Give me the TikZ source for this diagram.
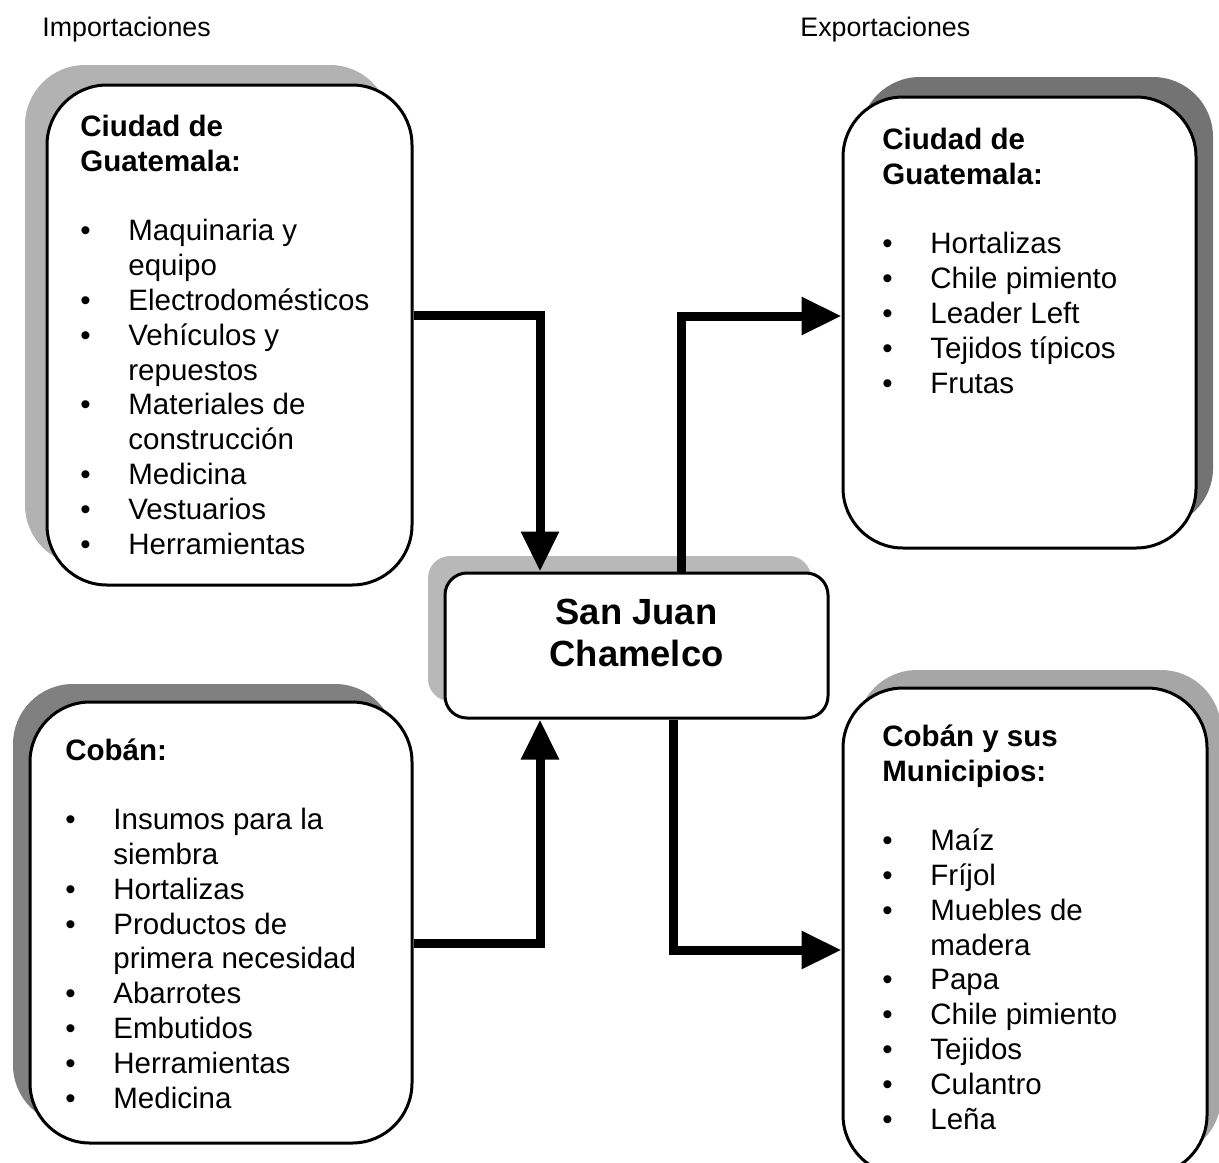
\documentclass[tikz,border=0pt]{standalone}
\usepackage{fontspec}
\setmainfont{Liberation Sans}
\usetikzlibrary{arrows.meta,shadows}

\newcommand{\bul}[1]{\makebox[24pt][l]{\textbullet}#1}
\newcommand{\cnt}[1]{\hspace*{24pt}#1}

\tikzset{
  caja/.style={draw, line width=1.5pt, fill=white, rounded corners=30pt, inner sep=0pt},
  lista/.style={align=left, anchor=base west, inner sep=0pt, font=\fontsize{14.75}{17.4}\selectfont},
  titulo/.style={anchor=base west, inner sep=0pt, font=\fontsize{13.4}{16}\selectfont},
  flecha/.style={line width=4.5pt, -{Triangle[width=18pt,length=20pt]}},
}

\begin{document}
\begin{tikzpicture}[x=0.5pt,y=-0.5pt]
        \clip (0,0) rectangle (1219,1162); % size of the page
        \node[titulo] (imp) at (42,36) {Importaciones};
        \node[titulo] (exp) at (800,36) {Exportaciones};
        % the five boxes
        \node[caja, minimum width=182.5pt, minimum height=250pt,
              general shadow={fill=black!30, shadow xshift=-11pt, shadow yshift=10pt}] (tl) at (229.5,335) {};
        \node[caja, minimum width=176.5pt, minimum height=225.5pt,
              general shadow={fill=black!55, shadow xshift=8.5pt, shadow yshift=10pt}] (tr) at (1019.5,322.5) {};
        \node[caja, rounded corners=11pt, minimum width=191.5pt, minimum height=72.5pt,
              general shadow={fill=black!28, shadow xshift=-8.5pt, shadow yshift=8.5pt}] (mid) at (636.5,645.5) {};
        \node[caja, minimum width=191pt, minimum height=220.5pt,
              general shadow={fill=black!50, shadow xshift=-8.5pt, shadow yshift=9pt}] (bl) at (221,922.5) {};
        \node[caja, minimum width=182pt, minimum height=243.5pt,
              general shadow={fill=black!35, shadow xshift=7pt, shadow yshift=9pt}] (br) at (1025,931.5) {};
        % texts (anchored at the baseline of their last line)
        \node[lista] (tltxt) at (80,554) {\textbf{Ciudad de}\\\textbf{Guatemala:}\\[17.4pt]
            \bul{Maquinaria y}\\\cnt{equipo}\\\bul{Electrodomésticos}\\\bul{Vehículos y}\\\cnt{repuestos}\\
            \bul{Materiales de}\\\cnt{construcción}\\\bul{Medicina}\\\bul{Vestuarios}\\\bul{Herramientas}};
        \node[lista] (trtxt) at (882,393) {\textbf{Ciudad de}\\\textbf{Guatemala:}\\[17.4pt]
            \bul{Hortalizas}\\\bul{Chile pimiento}\\\bul{Leader Left}\\\bul{Tejidos típicos}\\\bul{Frutas}};
        \node[lista] (bltxt) at (65,1108) {\textbf{Cobán:}\\[17.4pt]
            \bul{Insumos para la}\\\cnt{siembra}\\\bul{Hortalizas}\\\bul{Productos de}\\\cnt{primera necesidad}\\
            \bul{Abarrotes}\\\bul{Embutidos}\\\bul{Herramientas}\\\bul{Medicina}};
        \node[lista] (brtxt) at (882,1129) {\textbf{Cobán y sus}\\\textbf{Municipios:}\\[17.4pt]
            \bul{Maíz}\\\bul{Fríjol}\\\bul{Muebles de}\\\cnt{madera}\\\bul{Papa}\\\bul{Chile pimiento}\\
            \bul{Tejidos}\\\bul{Culantro}\\\bul{Leña}};
        \node[align=center, inner sep=0pt, font=\bfseries\fontsize{18.2}{21}\selectfont] (midtxt)
            at ([yshift=6.5pt]mid.center) {San Juan\\Chamelco};
        % bends of the arrows
        \coordinate (k1) at (540,315);
        \coordinate (k2) at (681,316);
        \coordinate (k3) at (540,943);
        \coordinate (k4) at (673,950);
        \draw[flecha] (tl.east |- k1) -- (k1) -- (k1 |- mid.north);
        \draw[flecha] (k2 |- mid.north) -- (k2) -- (tr.west |- k2);
        \draw[flecha] (bl.east |- k3) -- (k3) -- (k3 |- mid.south);
        \draw[flecha] (k4 |- mid.south) -- (k4) -- (br.west |- k4);
\end{tikzpicture}
\end{document}
